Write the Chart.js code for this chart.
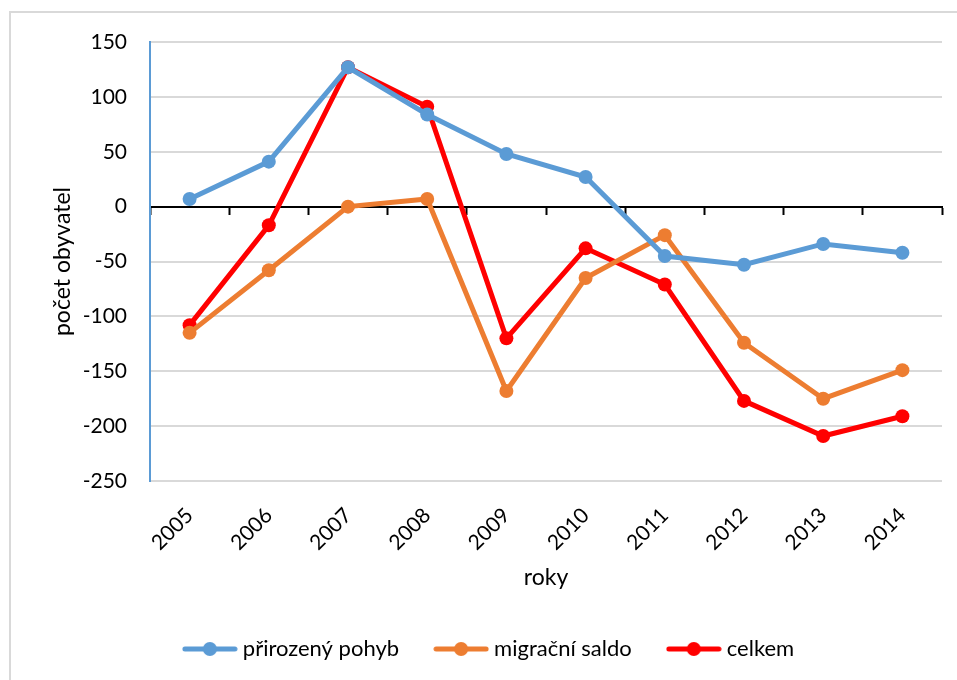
<!DOCTYPE html>
<html>
<head>
<meta charset="utf-8">
<script src="https://cdn.jsdelivr.net/npm/chart.js@4/dist/chart.umd.min.js"></script>
<style>
  body { margin: 0; background: #fff; overflow: hidden; }
  #wrap { position: relative; width: 957px; height: 680px; overflow: hidden; }
  #frame { position: absolute; left: 9px; top: 11px; width: 1000px; height: 1000px;
           border: 2px solid #d9d9d9; pointer-events: none; }
  canvas { position: absolute; left: 0; top: 0; }
</style>
</head>
<body>
<div id="wrap">
  <div id="frame"></div>
  <canvas id="graf" width="957" height="680"></canvas>
</div>
<script>
const roky = ['2005', '2006', '2007', '2008', '2009', '2010', '2011', '2012', '2013', '2014'];
const prirozenyPohyb = [7, 41, 127, 84, 48, 27, -45, -53, -34, -42];
const migracniSaldo = [-115, -58, 0, 7, -168, -65, -26, -124, -175, -149];
const celkem = [-108, -17, 127, 91, -120, -38, -71, -177, -209, -191];
const yTicks = [150, 100, 50, 0, -50, -100, -150, -200, -250];

const modra = '#5B9BD5';
const oranzova = '#ED7D31';
const cervena = '#FF0000';
const pismo = 'Lato';

// ikonka do legendy: čára s kolečkem jako v Excelu
function znacka(barva) {
  const c = document.createElement('canvas');
  c.width = 56; c.height = 16;
  const g = c.getContext('2d');
  g.strokeStyle = barva;
  g.lineWidth = 5;
  g.lineCap = 'round';
  g.beginPath(); g.moveTo(3, 8); g.lineTo(53, 8); g.stroke();
  g.fillStyle = barva;
  g.beginPath(); g.arc(28, 8, 7, 0, Math.PI * 2); g.fill();
  return c;
}

function rada(nazev, data, barva) {
  return {
    label: nazev,
    data: data,
    borderColor: barva,
    backgroundColor: barva,
    borderWidth: 5,
    pointRadius: 7,
    pointHoverRadius: 7,
    pointBackgroundColor: barva,
    pointBorderWidth: 0,
    tension: 0
  };
}

new Chart(document.getElementById('graf'), {
  type: 'line',
  data: {
    labels: roky,
    datasets: [
      rada('přirozený pohyb', prirozenyPohyb, modra),
      rada('migrační saldo', migracniSaldo, oranzova),
      rada('celkem', celkem, cervena)
    ]
  },
  options: {
    responsive: false,
    animation: false,
    layout: { padding: { left: 40, top: 42, right: 15, bottom: 10 } },
    plugins: {
      tooltip: { enabled: false },
      legend: {
        position: 'bottom',
        labels: {
          usePointStyle: true,
          pointStyleWidth: 44,
          boxHeight: 16,
          padding: 40,
          color: '#000',
          font: { family: pismo, size: 22 },
          generateLabels: (chart) => chart.data.datasets.map((ds, i) => ({
            text: ds.label,
            pointStyle: znacka(ds.borderColor),
            fillStyle: ds.borderColor,
            strokeStyle: ds.borderColor,
            lineWidth: 0,
            hidden: false,
            datasetIndex: i,
            fontColor: '#000'
          }))
        }
      }
    },
    scales: {
      x: {
        offset: true,
        afterFit: (axis) => { axis.height = 117; },
        grid: { display: false },
        border: { display: false },
        ticks: {
          minRotation: 45,
          maxRotation: 45,
          padding: 14,
          color: '#000',
          font: { family: pismo, size: 21 }
        },
        title: {
          display: true,
          text: 'roky',
          color: '#000',
          font: { family: pismo, size: 23 },
          padding: { top: 4, bottom: 7 }
        }
      },
      xNula: {
        type: 'category',
        position: { y: 0 },
        offset: true,
        grid: {
          offset: true,
          drawOnChartArea: false,
          drawTicks: true,
          tickLength: 7,
          tickWidth: 2,
          tickColor: '#000'
        },
        border: { color: '#000', width: 2 },
        ticks: { display: false }
      },
      y: {
        min: -250,
        max: 150,
        afterBuildTicks: (axis) => { axis.ticks = yTicks.map(v => ({ value: v })); },
        afterFit: (axis) => { axis.width = 110; },
        grid: { color: '#d9d9d9', lineWidth: 2, drawTicks: false },
        border: { color: modra, width: 2 },
        ticks: {
          padding: 23,
          color: '#000',
          font: { family: pismo, size: 21 }
        },
        title: {
          display: true,
          text: 'počet obyvatel',
          color: '#000',
          font: { family: pismo, size: 23 },
          padding: { top: 9, bottom: 4 }
        }
      }
    }
  }
});
</script>
</body>
</html>
